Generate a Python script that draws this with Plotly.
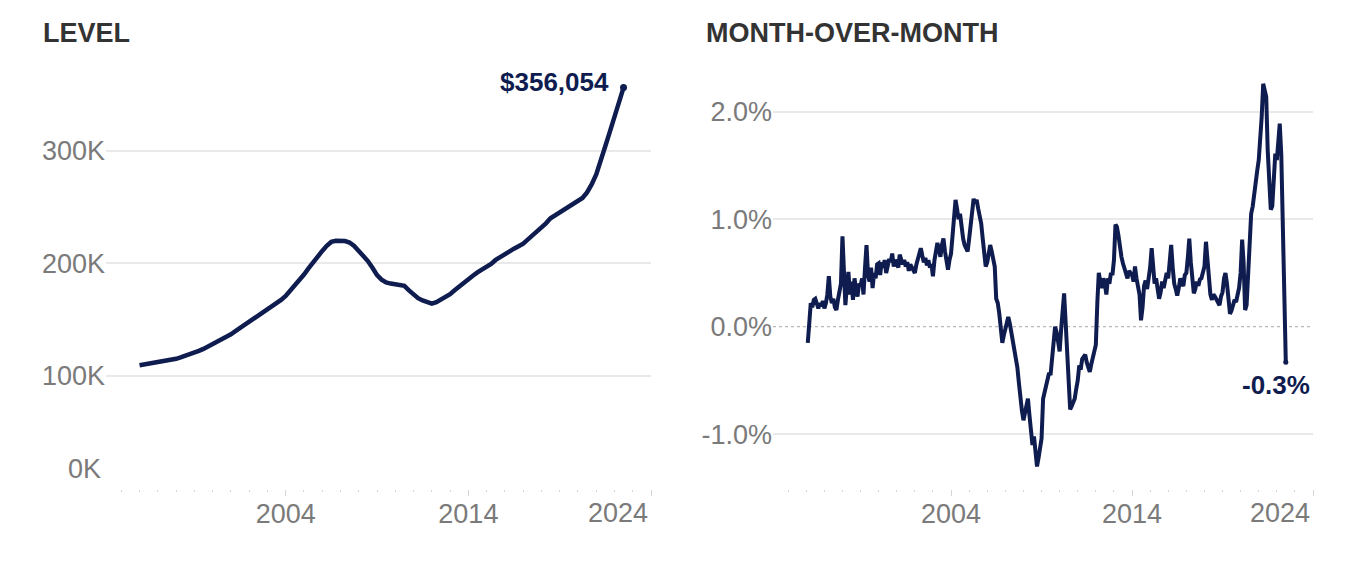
import pandas as pd
import plotly.graph_objects as go

# ---------------- data ----------------
# Typical home value, quarterly (Jan/Apr/Jul/Oct), 1996-01 .. 2022-07, USD
level_start = "1996-01-01"
level_values = [
    109500, 110100, 110700, 111300,   # 1996
    112000, 112700, 113500, 114300,   # 1997
    115200, 116400, 117700, 119100,   # 1998
    120500, 122200, 124000, 126000,   # 1999
    128000, 130200, 132400, 134700,   # 2000
    137000, 139700, 142400, 145200,   # 2001
    148000, 150700, 153300, 155900,   # 2002
    158500, 161300, 164300, 167500,   # 2003
    171000, 175500, 180500, 185200,   # 2004
    190000, 195500, 201000, 206300,   # 2005
    211000, 215500, 219000, 220000,   # 2006
    220000, 219800, 218500, 215500,   # 2007
    211000, 206800, 202000, 196000,   # 2008
    189500, 185500, 183000, 182000,   # 2009
    181500, 181200, 180000, 176000,   # 2010
    172000, 169000, 167000, 165200,   # 2011
    164200, 165500, 167500, 170000,   # 2012
    172500, 176000, 179500, 182800,   # 2013
    186000, 189000, 192000, 194500,   # 2014
    196500, 199500, 203000, 205800,   # 2015
    208500, 210800, 213000, 215200,   # 2016
    217500, 221000, 224500, 227800,   # 2017
    231000, 235500, 240000, 242500,   # 2018
    245000, 247500, 250000, 252500,   # 2019
    255000, 258000, 263000, 270000,   # 2020
    279000, 290500, 304000, 317000,   # 2021
    330000, 342500, 356054,           # 2022
]

# Month-over-month change, %, monthly 1996-02 .. 2022-07
mom_start = "1996-02-01"
mom_pct = [
    -0.15, 0.05, 0.22, 0.18, 0.25, 0.26, 0.20, 0.17, 0.22, 0.19, 0.24,           # 1996
    0.17, 0.22, 0.30, 0.47, 0.28, 0.22, 0.26, 0.18, 0.155, 0.25, 0.32, 0.40,     # 1997
    0.84, 0.35, 0.20, 0.38, 0.51, 0.30, 0.42, 0.25, 0.45, 0.35, 0.28, 0.40,      # 1998
    0.38, 0.45, 0.30, 0.55, 0.76, 0.48, 0.42, 0.55, 0.36, 0.50, 0.45, 0.58,      # 1999
    0.59, 0.48, 0.60, 0.55, 0.62, 0.50, 0.58, 0.63, 0.60, 0.68, 0.56, 0.62,      # 2000
    0.60, 0.55, 0.67, 0.63, 0.58, 0.62, 0.56, 0.60, 0.52, 0.58, 0.55, 0.53,      # 2001
    0.50, 0.58, 0.62, 0.68, 0.73, 0.66, 0.60, 0.64, 0.57, 0.62, 0.55, 0.58,      # 2002
    0.47, 0.62, 0.70, 0.78, 0.72, 0.65, 0.76, 0.82, 0.70, 0.60, 0.53, 0.62,      # 2003
    0.68, 0.85, 1.02, 1.18, 1.10, 1.00, 1.05, 0.92, 0.82, 0.76, 0.72, 0.70,      # 2004
    0.82, 0.98, 1.12, 1.19, 1.15, 1.18, 1.10, 1.04, 0.96, 0.82, 0.68, 0.56,      # 2005
    0.60, 0.68, 0.76, 0.70, 0.62, 0.56, 0.26, 0.22, 0.12, 0.02, -0.15, -0.08,    # 2006
    -0.02, 0.05, 0.09, 0.03, -0.05, -0.12, -0.20, -0.26, -0.38, -0.52, -0.70, -0.78,  # 2007
    -0.87, -0.80, -0.72, -0.67, -0.82, -0.95, -1.10, -1.02, -1.18, -1.30, -1.22, -1.10,  # 2008
    -1.04, -0.67, -0.62, -0.55, -0.48, -0.43, -0.45, -0.30, -0.15, 0.00, -0.05, -0.18,  # 2009
    -0.23, -0.02, 0.15, 0.31, 0.05, -0.28, -0.55, -0.77, -0.74, -0.70, -0.67, -0.58,    # 2010
    -0.50, -0.36, -0.40, -0.30, -0.28, -0.26, -0.33, -0.38, -0.42, -0.35, -0.30, -0.22, # 2011
    -0.17, 0.23, 0.50, 0.42, 0.36, 0.45, 0.40, 0.30, 0.45, 0.40, 0.50, 0.48,     # 2012
    0.62, 0.95, 0.93, 0.85, 0.72, 0.65, 0.59, 0.55, 0.50, 0.45, 0.52, 0.50,      # 2013
    0.48, 0.42, 0.56, 0.45, 0.35, 0.30, 0.06, 0.18, 0.38, 0.43, 0.35, 0.45,      # 2014
    0.55, 0.73, 0.55, 0.40, 0.45, 0.35, 0.26, 0.32, 0.42, 0.36, 0.44, 0.50,      # 2015
    0.45, 0.60, 0.76, 0.55, 0.40, 0.35, 0.29, 0.36, 0.45, 0.40, 0.38, 0.48,      # 2016
    0.50, 0.65, 0.82, 0.60, 0.45, 0.31, 0.35, 0.42, 0.38, 0.44, 0.45, 0.52,      # 2017
    0.56, 0.79, 0.62, 0.45, 0.30, 0.25, 0.30, 0.28, 0.25, 0.22, 0.20, 0.28,      # 2018
    0.32, 0.45, 0.50, 0.40, 0.28, 0.12, 0.15, 0.20, 0.25, 0.23, 0.28, 0.36,      # 2019
    0.50, 0.81, 0.60, 0.155, 0.20, 0.50, 0.87, 1.05, 1.12, 1.25, 1.36, 1.45,     # 2020
    1.55, 1.71, 1.95, 2.26, 2.20, 2.14, 1.64, 1.30, 1.09, 1.12, 1.35, 1.61,      # 2021
    1.55, 1.79, 1.89, 1.60, 0.90, 0.30, -0.33,                                   # 2022
]

x_tick_years = ["2004", "2014", "2024"]
level_tick_vals = [100000, 200000, 300000]
level_tick_text = ["100K", "200K", "300K"]
mom_tick_vals = [-1, 0, 1, 2]
mom_tick_text = ["-1.0%", "0.0%", "1.0%", "2.0%"]
panel_titles = ["LEVEL", "MONTH-OVER-MONTH"]
level_label = "$356,054"
mom_label = "-0.3%"

# ---------------- styling ----------------
OFF = 8                     # default page margin of the html body
W, H = 1348 - OFF, 570 - OFF
NAVY = "#0f1c4f"
GREY = "#7a7a7a"
GRID = "#e9e9e9"
TICK = "#d6d6d6"
FONT = "Arial, 'Liberation Sans', sans-serif"
TICK_SIZE = 27

level_dates = pd.date_range(level_start, periods=len(level_values), freq="3MS")
mom_dates = pd.date_range(mom_start, periods=len(mom_pct), freq="MS")

def px_x(p):
    return (p - OFF) / W

def px_y(p):
    return 1 - (p - OFF) / H

y_dom = [px_y(488.5), px_y(70)]
x_range = ["1994-03-01", "2024-01-01"]
tickvals_x = [f"{y}-01-01" for y in x_tick_years]
ticktext_x = [x_tick_years[0], x_tick_years[1], ""]

fig = go.Figure()
fig.add_trace(go.Scatter(
    x=level_dates, y=level_values, mode="lines",
    line=dict(color=NAVY, width=4.5), xaxis="x", yaxis="y", showlegend=False,
))
fig.add_trace(go.Scatter(
    x=[level_dates[-1]], y=[level_values[-1]], mode="markers",
    marker=dict(color=NAVY, size=7), xaxis="x", yaxis="y", showlegend=False,
))
fig.add_trace(go.Scatter(
    x=mom_dates, y=mom_pct, mode="lines",
    line=dict(color=NAVY, width=4), xaxis="x2", yaxis="y2", showlegend=False,
))
fig.add_trace(go.Scatter(
    x=[mom_dates[-1]], y=[mom_pct[-1]], mode="markers",
    marker=dict(color=NAVY, size=5), xaxis="x2", yaxis="y2", showlegend=False,
))

xcommon = dict(
    type="date", range=x_range, tickmode="array", tickvals=tickvals_x,
    ticktext=ticktext_x, ticks="outside", ticklen=6, tickwidth=1, tickcolor=TICK,
    showgrid=False, zeroline=False, showline=False, ticklabelstandoff=-5,
    tickfont=dict(family=FONT, size=TICK_SIZE, color=GREY),
    minor=dict(ticks="outside", ticklen=2, tickwidth=1, tickcolor=TICK,
               dtick="M12", tick0="1995-01-01", showgrid=False),
)
fig.update_layout(
    width=W, height=H,
    margin=dict(l=0, r=0, t=0, b=0),
    paper_bgcolor="white", plot_bgcolor="white",
    font=dict(family=FONT),
    xaxis=dict(domain=[px_x(106), px_x(651)], anchor="y", **xcommon),
    xaxis2=dict(domain=[px_x(773), px_x(1313)], anchor="y2", **xcommon),
    yaxis=dict(
        domain=y_dom, anchor="x", range=[0, 371700], tickmode="array",
        tickvals=level_tick_vals, ticktext=level_tick_text,
        showgrid=True, gridcolor=GRID, gridwidth=1.5, zeroline=False,
        showline=False, ticks="", tickfont=dict(family=FONT, size=TICK_SIZE, color=GREY),
    ),
    yaxis2=dict(
        domain=y_dom, anchor="x2", range=[-1.505, 2.388], tickmode="array",
        tickvals=mom_tick_vals, ticktext=mom_tick_text,
        showgrid=False, zeroline=False, showline=False, ticks="",
        tickfont=dict(family=FONT, size=TICK_SIZE, color=GREY),
        minor=dict(tickmode="array", tickvals=[v for v in mom_tick_vals if v != 0],
                   showgrid=True, gridcolor=GRID, gridwidth=1.5, ticks=""),
    ),
    shapes=[dict(type="line", xref="x2 domain", yref="y2", x0=0, x1=1, y0=0, y1=0,
                 line=dict(color="#b8b8b8", width=1.2, dash="dot"), layer="below")],
)

ann = []
# panel titles
ann.append(dict(text=f"<b>{panel_titles[0]}</b>", x=px_x(41), y=px_y(33), xref="paper",
                yref="paper", xanchor="left", yanchor="middle", showarrow=False,
                font=dict(family=FONT, size=27, color="#333333")))
ann.append(dict(text=f"<b>{panel_titles[1]}</b>", x=px_x(704), y=px_y(33), xref="paper",
                yref="paper", xanchor="left", yanchor="middle", showarrow=False,
                font=dict(family=FONT, size=27, color="#333333")))
# end labels
ann.append(dict(text=f"<b>{level_label}</b>", x=level_dates[-1], y=level_values[-1],
                xref="x", yref="y", xanchor="right", yanchor="middle", xshift=-13,
                yshift=6, showarrow=False, font=dict(family=FONT, size=26, color=NAVY)))
ann.append(dict(text=f"<b>{mom_label}</b>", x=mom_dates[-1], y=mom_pct[-1],
                xref="x2", yref="y2", xanchor="center", yanchor="middle", xshift=-10,
                yshift=-23, showarrow=False, font=dict(family=FONT, size=26, color=NAVY)))
# "0K" label, lifted above the axis
ann.append(dict(text="0K", x=0, y=0, xref="x domain", yref="y", xanchor="right",
                yanchor="middle", xshift=-3, yshift=20, showarrow=False,
                font=dict(family=FONT, size=TICK_SIZE, color=GREY)))
# last x label, right-aligned to its tick
for xr in ["x", "x2"]:
    ann.append(dict(text=x_tick_years[2], x=tickvals_x[2], y=px_y(513), xref=xr,
                    yref="paper", xanchor="right", yanchor="middle", xshift=-1,
                    showarrow=False, font=dict(family=FONT, size=TICK_SIZE, color=GREY)))
fig.update_layout(annotations=ann)

fig.write_html("out.html")
